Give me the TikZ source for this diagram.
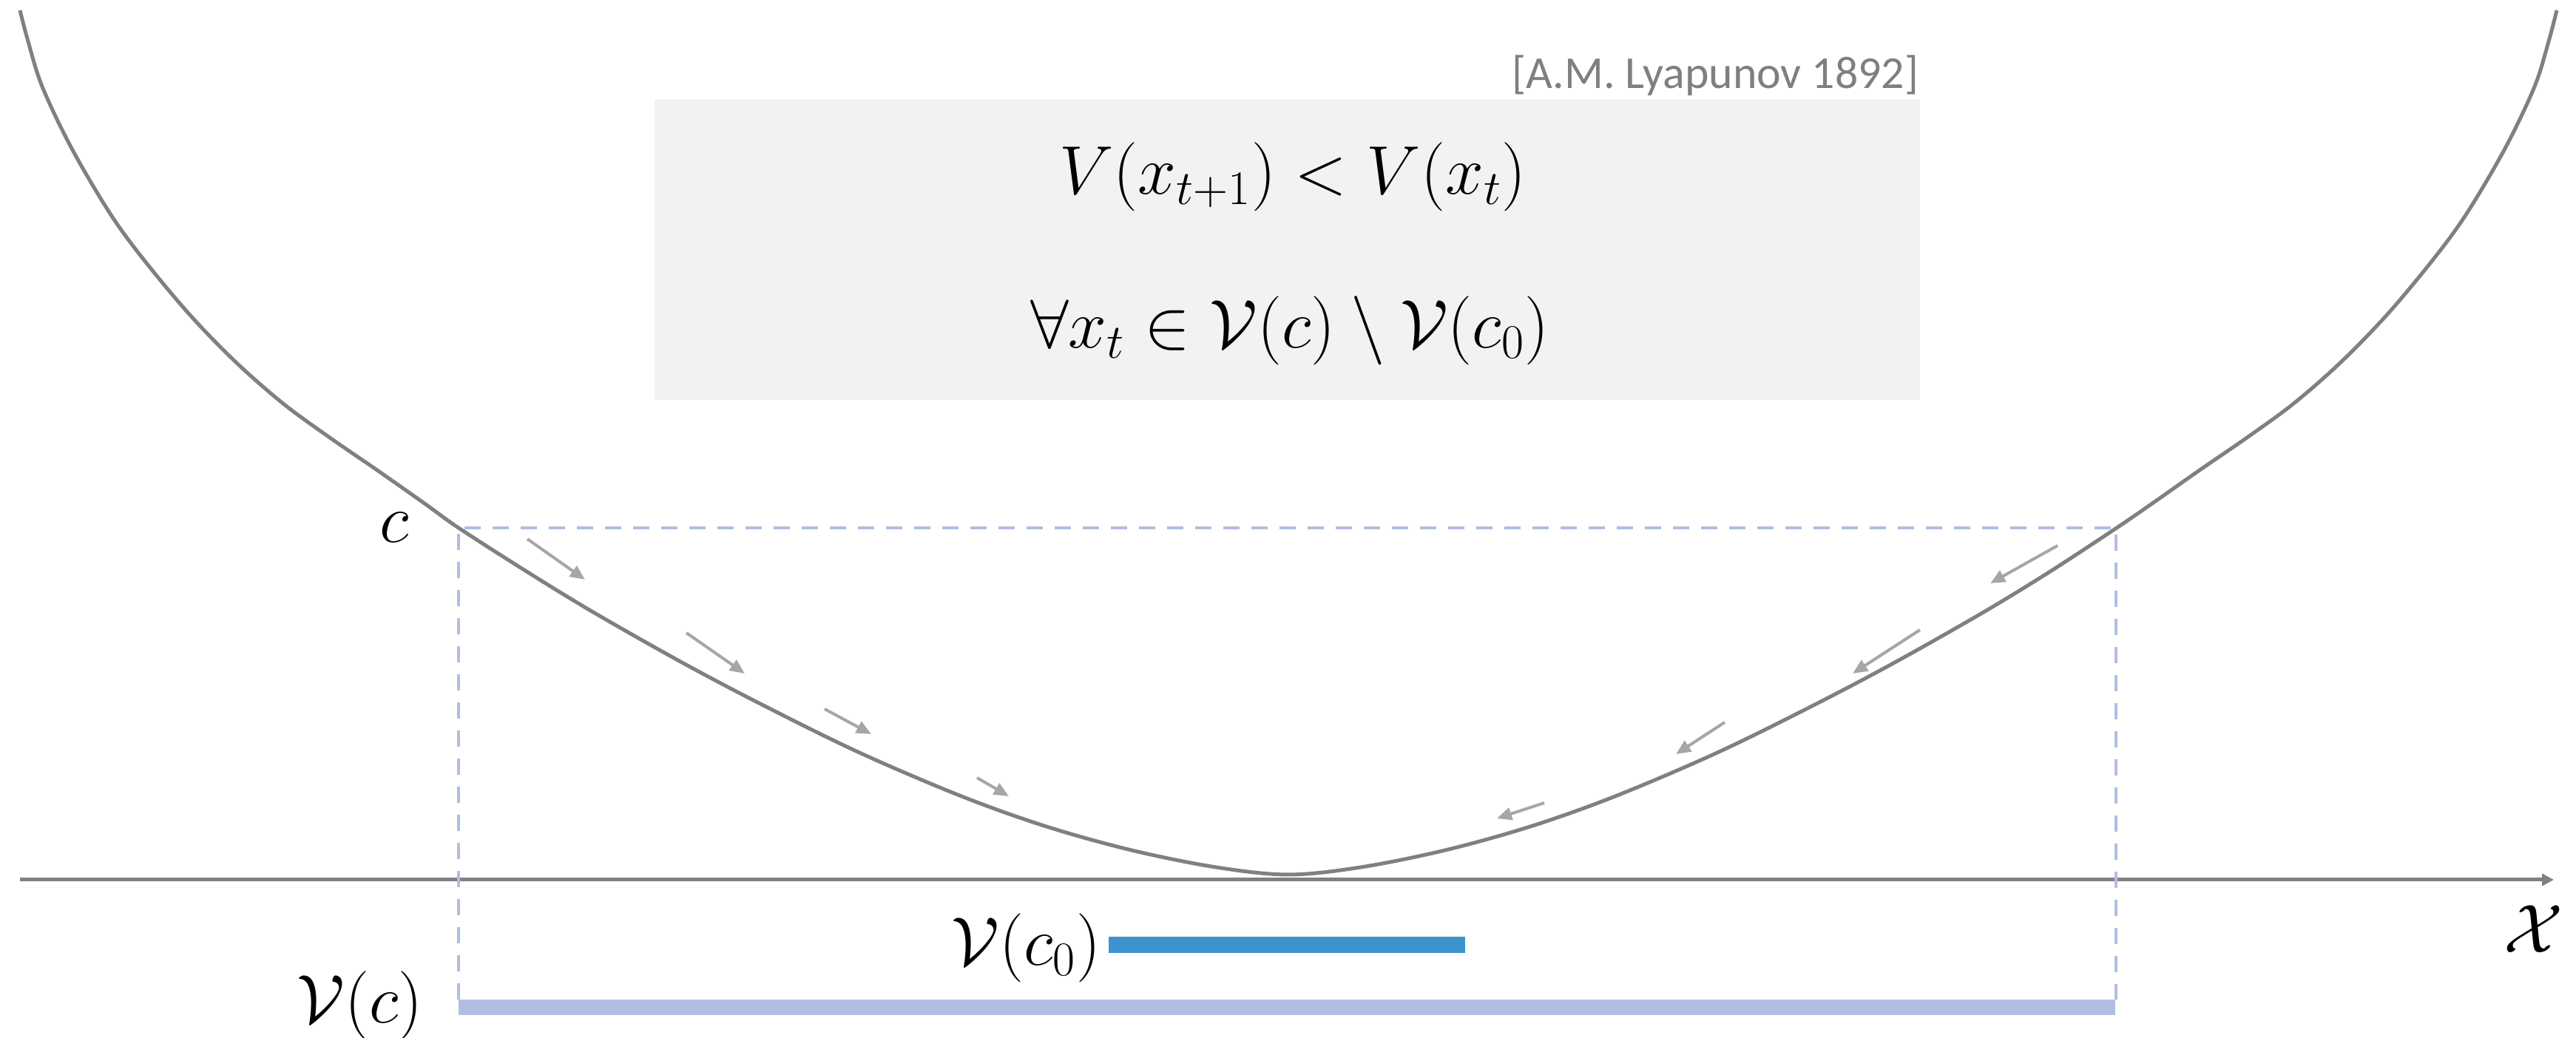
\RequirePackage{fix-cm}
\documentclass[tikz,border=0pt]{standalone}
\usepackage{fontspec}
\newfontfamily\citefont{Carlito}
\usetikzlibrary{arrows.meta}
\definecolor{curvegray}{RGB}{128,128,128}
\definecolor{arrowgray}{RGB}{166,166,166}
\definecolor{lightblue}{RGB}{176,190,226}
\definecolor{midblue}{RGB}{62,147,207}
\definecolor{boxgray}{RGB}{242,242,242}
\definecolor{citegray}{RGB}{127,127,127}
\tikzset{
  mathlbl/.style={inner sep=0pt, font=\fontsize{26.5}{31}\selectfont},
  curveline/.style={draw=curvegray, line width=0.05cm},
  axisline/.style={draw=curvegray, line width=0.05cm, -{Triangle[length=0.16cm,width=0.16cm]}},
  flow/.style={draw=arrowgray, line width=0.04cm, -{Triangle[length=0.2cm,width=0.17cm]}},
  levelset/.style={draw=lightblue, line width=0.045cm, dash pattern=on 0.22cm off 0.16cm},
  bigbar/.style={draw=lightblue, line width=0.21cm},
  smallbar/.style={draw=midblue, line width=0.22cm},
}
\begin{document}
\begin{tikzpicture}
\useasboundingbox (0,0) rectangle (34.83,14.04);
% condition box
\node[fill=boxgray, minimum width=17.11cm, minimum height=4.07cm, anchor=north west, inner sep=0pt] (box) at (8.84,12.71) {};
\node[mathlbl] (eq1) at (17.48,11.65) {$V(x_{t+1}) < V(x_t)$};
\node[mathlbl] (eq2) at (17.44,9.57) {$\forall x_t \in \mathcal{V}(c) \setminus \mathcal{V}(c_0)$};
\node[anchor=base east, inner sep=0pt, text=citegray, font=\citefont\fontsize{17.6}{20}\selectfont] (cite) at (25.95,12.84) {[A.M. Lyapunov 1892]};
% axis
\coordinate (axL) at (0.27,2.14);
\coordinate (axR) at (34.53,2.14);
\draw[axisline] (axL) -- (axR);
\node[mathlbl] (xlab) at (34.26,1.47) {$\mathcal{X}$};
% level set box
\coordinate (lsBL) at (6.20,0.52);
\coordinate (lsTL) at (6.20,6.90);
\coordinate (lsTR) at (28.61,6.90);
\coordinate (lsBR) at (28.61,0.52);
\draw[levelset] (lsBL) -- (lsTL) -- (lsTR) -- (lsBR);
\node[mathlbl, anchor=east] (clab) at (5.53,6.91) {$c$};
% Lyapunov function
\draw[curveline] plot[smooth, tension=0.55] coordinates {
(0.27,13.90) (0.38,13.48) (0.57,12.87) (0.96,12.05) (1.47,11.18) (1.91,10.57) (2.55,9.80) (3.19,9.14) (3.83,8.58) (4.46,8.12) (5.10,7.68) (5.74,7.23) (6.20,6.90) (7.12,6.31) (8.02,5.76) (9.22,5.08) (10.32,4.50) (11.62,3.86) (13.00,3.27) (14.15,2.86) (15.30,2.54) (16.44,2.31) (17.42,2.21)
(18.40,2.31) (19.54,2.54) (20.69,2.86) (21.84,3.27) (23.22,3.86) (24.52,4.50) (25.62,5.08) (26.82,5.76) (27.72,6.31) (28.62,6.90) (29.10,7.23) (29.74,7.68) (30.38,8.12) (31.01,8.58) (31.65,9.14) (32.29,9.80) (32.93,10.57) (33.37,11.18) (33.88,12.05) (34.27,12.87) (34.46,13.48) (34.57,13.90)};
% flow arrows
\coordinate (a1s) at (7.13,6.75);  \coordinate (a1e) at (7.91,6.20);
\coordinate (a2s) at (9.28,5.48);  \coordinate (a2e) at (10.07,4.93);
\coordinate (a3s) at (11.15,4.45); \coordinate (a3e) at (11.78,4.11);
\coordinate (a4s) at (13.21,3.52); \coordinate (a4e) at (13.64,3.27);
\coordinate (b1s) at (27.82,6.66); \coordinate (b1e) at (26.91,6.15);
\coordinate (b2s) at (25.96,5.52); \coordinate (b2e) at (25.05,4.93);
\coordinate (b3s) at (23.32,4.27); \coordinate (b3e) at (22.66,3.84);
\coordinate (b4s) at (20.88,3.18); \coordinate (b4e) at (20.24,2.97);
\foreach \p in {a1,a2,a3,a4,b1,b2,b3,b4} { \draw[flow] (\p s) -- (\p e); }
% sublevel sets
\coordinate (vcL) at (6.20,0.415);
\coordinate (vcR) at (28.60,0.415);
\draw[bigbar] (vcL) -- (vcR);
\node[mathlbl, anchor=east] (vclab) at (5.72,0.44) {$\mathcal{V}(c)$};
\coordinate (vc0L) at (14.99,1.26);
\coordinate (vc0R) at (19.81,1.26);
\draw[smallbar] (vc0L) -- (vc0R);
\node[mathlbl, anchor=east] (vc0lab) at (14.89,1.22) {$\mathcal{V}(c_0)$};
\end{tikzpicture}
\end{document}
